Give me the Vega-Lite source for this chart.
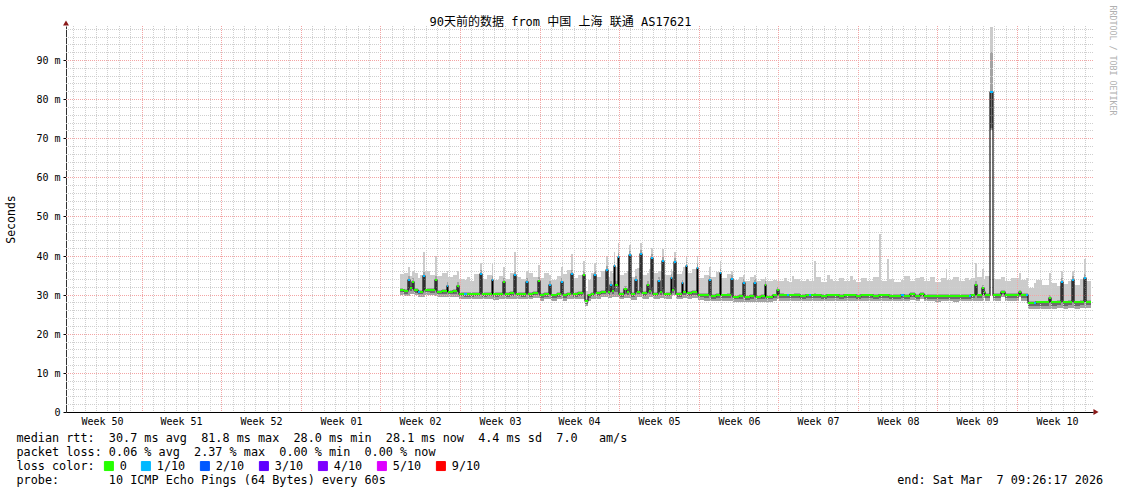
{
"$schema": "https://vega.github.io/schema/vega-lite/v6.json",
"width": 1027, "height": 386,
"autosize": {"type": "none"},
"padding": {"left": 66, "top": 26, "right": 28, "bottom": 82},
"background": "#ffffff",
"config": {"view": {"stroke": null}},
"title": {"text": "90天前的数据 from 中国 上海 联通 AS17621", "font": "DejaVu Sans Mono, Noto Sans CJK SC", "fontSize": 12, "fontWeight": "normal", "color": "#000000", "anchor": "middle", "frame": "group", "dx": -19, "dy": 35, "offset": 2, "baseline": "alphabetic"},
"resolve": {"axis": {"x": "independent", "y": "independent"}},
"datasets": {
"ping": [
{"d":29.73,"e":30.1,"m":31.3,"lo":29.9,"q1":30.6,"q3":31.8,"hi":35.2,"l":"0"},
{"d":30.1,"e":30.45,"m":31.0,"lo":29.6,"q1":30.3,"q3":31.5,"hi":35.6,"l":"0"},
{"d":30.45,"e":30.6,"m":33.8,"lo":29.7,"q1":31.3,"q3":34.8,"hi":37.2,"l":"1/10"},
{"d":30.6,"e":30.82,"m":31.6,"lo":30.2,"q1":30.9,"q3":32.1,"hi":34.8,"l":"0"},
{"d":30.82,"e":30.95,"m":33.3,"lo":30.2,"q1":31.4,"q3":34.2,"hi":36.0,"l":"0"},
{"d":30.95,"e":31.3,"m":31.2,"lo":29.8,"q1":30.5,"q3":31.7,"hi":35.5,"l":"0"},
{"d":31.3,"e":31.45,"m":30.8,"lo":29.4,"q1":30.1,"q3":31.3,"hi":34.3,"l":"1/10"},
{"d":31.45,"e":31.77,"m":30.8,"lo":29.4,"q1":30.1,"q3":31.3,"hi":35.0,"l":"0"},
{"d":31.77,"e":31.91,"m":34.7,"lo":29.5,"q1":31.1,"q3":35.7,"hi":41.0,"l":"1/10"},
{"d":31.91,"e":32.4,"m":31.3,"lo":29.9,"q1":30.6,"q3":31.8,"hi":36.0,"l":"0"},
{"d":32.4,"e":32.82,"m":31.2,"lo":29.8,"q1":30.5,"q3":31.7,"hi":35.0,"l":"0"},
{"d":32.82,"e":32.96,"m":33.8,"lo":29.7,"q1":31.2,"q3":34.8,"hi":40.0,"l":"0"},
{"d":32.96,"e":33.4,"m":30.8,"lo":29.4,"q1":30.1,"q3":31.3,"hi":34.8,"l":"0"},
{"d":33.4,"e":33.84,"m":30.9,"lo":29.5,"q1":30.2,"q3":31.4,"hi":35.6,"l":"0"},
{"d":33.84,"e":33.98,"m":32.3,"lo":29.5,"q1":30.7,"q3":33.2,"hi":36.0,"l":"1/10"},
{"d":33.98,"e":34.4,"m":30.8,"lo":29.4,"q1":30.1,"q3":31.3,"hi":34.5,"l":"0"},
{"d":34.4,"e":34.77,"m":30.9,"lo":29.5,"q1":30.2,"q3":31.4,"hi":35.0,"l":"0"},
{"d":34.77,"e":34.91,"m":32.3,"lo":29.5,"q1":30.7,"q3":33.2,"hi":36.0,"l":"0"},
{"d":34.91,"e":35.4,"m":30.3,"lo":28.9,"q1":29.6,"q3":30.8,"hi":34.0,"l":"0"},
{"d":35.4,"e":35.6,"m":30.2,"lo":28.8,"q1":29.5,"q3":30.7,"hi":33.8,"l":"1/10"},
{"d":35.6,"e":35.9,"m":30.2,"lo":28.8,"q1":29.5,"q3":30.7,"hi":34.6,"l":"0"},
{"d":35.9,"e":36.2,"m":30.2,"lo":28.8,"q1":29.5,"q3":30.7,"hi":33.6,"l":"0"},
{"d":36.2,"e":36.78,"m":30.3,"lo":28.9,"q1":29.6,"q3":30.8,"hi":35.2,"l":"0"},
{"d":36.78,"e":36.92,"m":35.3,"lo":28.9,"q1":30.8,"q3":36.3,"hi":38.0,"l":"1/10"},
{"d":36.92,"e":37.4,"m":30.2,"lo":28.8,"q1":29.5,"q3":30.7,"hi":34.0,"l":"0"},
{"d":37.4,"e":37.81,"m":30.3,"lo":28.9,"q1":29.6,"q3":30.8,"hi":35.0,"l":"0"},
{"d":37.81,"e":37.95,"m":33.8,"lo":28.9,"q1":30.6,"q3":34.8,"hi":37.8,"l":"1/10"},
{"d":37.95,"e":38.4,"m":30.1,"lo":28.7,"q1":29.4,"q3":30.6,"hi":33.8,"l":"0"},
{"d":38.4,"e":38.8,"m":30.3,"lo":28.9,"q1":29.6,"q3":30.8,"hi":34.8,"l":"0"},
{"d":38.8,"e":38.94,"m":33.3,"lo":28.9,"q1":30.5,"q3":34.3,"hi":37.0,"l":"0"},
{"d":38.94,"e":39.4,"m":30.2,"lo":28.8,"q1":29.5,"q3":30.7,"hi":34.0,"l":"0"},
{"d":39.4,"e":39.77,"m":30.4,"lo":29.0,"q1":29.7,"q3":30.9,"hi":35.5,"l":"0"},
{"d":39.77,"e":39.91,"m":35.1,"lo":29.0,"q1":30.8,"q3":36.1,"hi":40.8,"l":"1/10"},
{"d":39.91,"e":40.4,"m":30.3,"lo":28.9,"q1":29.6,"q3":30.8,"hi":34.5,"l":"0"},
{"d":40.4,"e":40.83,"m":30.2,"lo":28.8,"q1":29.5,"q3":30.7,"hi":34.0,"l":"0"},
{"d":40.83,"e":40.97,"m":33.3,"lo":28.8,"q1":30.5,"q3":34.3,"hi":36.0,"l":"1/10"},
{"d":40.97,"e":41.4,"m":30.2,"lo":28.8,"q1":29.5,"q3":30.7,"hi":35.5,"l":"0"},
{"d":41.4,"e":41.86,"m":30.5,"lo":29.1,"q1":29.8,"q3":31.0,"hi":34.5,"l":"0"},
{"d":41.86,"e":42.0,"m":33.6,"lo":29.1,"q1":30.6,"q3":34.6,"hi":37.5,"l":"0"},
{"d":42.0,"e":42.4,"m":29.9,"lo":28.5,"q1":29.2,"q3":30.4,"hi":34.2,"l":"0"},
{"d":42.4,"e":42.85,"m":30.2,"lo":28.8,"q1":29.5,"q3":30.7,"hi":35.6,"l":"0"},
{"d":42.85,"e":42.99,"m":32.5,"lo":28.8,"q1":30.3,"q3":33.4,"hi":35.0,"l":"1/10"},
{"d":42.99,"e":43.5,"m":29.8,"lo":28.4,"q1":29.1,"q3":30.3,"hi":33.8,"l":"0"},
{"d":43.5,"e":43.88,"m":30.2,"lo":28.8,"q1":29.5,"q3":30.7,"hi":34.8,"l":"0"},
{"d":43.88,"e":44.02,"m":33.2,"lo":28.8,"q1":30.5,"q3":34.2,"hi":37.0,"l":"1/10"},
{"d":44.02,"e":44.4,"m":29.9,"lo":28.5,"q1":29.2,"q3":30.4,"hi":35.4,"l":"0"},
{"d":44.4,"e":44.78,"m":30.3,"lo":28.9,"q1":29.6,"q3":30.8,"hi":36.3,"l":"0"},
{"d":44.78,"e":44.92,"m":35.3,"lo":28.9,"q1":30.8,"q3":36.3,"hi":40.5,"l":"1/10"},
{"d":44.92,"e":45.4,"m":30.2,"lo":28.8,"q1":29.5,"q3":30.7,"hi":34.2,"l":"0"},
{"d":45.4,"e":45.84,"m":30.4,"lo":29.0,"q1":29.7,"q3":30.9,"hi":35.0,"l":"0"},
{"d":45.84,"e":45.98,"m":35.0,"lo":29.0,"q1":30.8,"q3":36.0,"hi":38.5,"l":"0"},
{"d":45.98,"e":46.25,"m":28.4,"lo":27.0,"q1":27.7,"q3":28.9,"hi":31.0,"l":"0"},
{"d":46.25,"e":46.5,"m":29.8,"lo":28.4,"q1":29.1,"q3":30.3,"hi":33.8,"l":"0"},
{"d":46.5,"e":46.81,"m":30.3,"lo":28.9,"q1":29.6,"q3":30.8,"hi":35.5,"l":"0"},
{"d":46.81,"e":46.95,"m":35.0,"lo":28.9,"q1":30.8,"q3":36.0,"hi":38.0,"l":"1/10"},
{"d":46.95,"e":47.4,"m":30.4,"lo":29.0,"q1":29.7,"q3":30.9,"hi":34.5,"l":"0"},
{"d":47.4,"e":47.84,"m":30.8,"lo":29.4,"q1":30.1,"q3":31.3,"hi":36.0,"l":"0"},
{"d":47.84,"e":47.98,"m":36.4,"lo":29.4,"q1":31.2,"q3":37.4,"hi":40.0,"l":"1/10"},
{"d":47.98,"e":48.2,"m":30.6,"lo":29.2,"q1":29.9,"q3":31.1,"hi":34.5,"l":"0"},
{"d":48.2,"e":48.34,"m":32.6,"lo":29.2,"q1":30.6,"q3":33.5,"hi":36.0,"l":"1/10"},
{"d":48.34,"e":48.52,"m":30.9,"lo":29.5,"q1":30.2,"q3":31.4,"hi":35.5,"l":"0"},
{"d":48.52,"e":48.66,"m":37.3,"lo":29.5,"q1":31.5,"q3":38.3,"hi":41.0,"l":"1/10"},
{"d":48.66,"e":48.87,"m":32.6,"lo":29.5,"q1":30.8,"q3":33.6,"hi":37.0,"l":"0"},
{"d":48.87,"e":49.01,"m":39.6,"lo":29.5,"q1":31.8,"q3":40.6,"hi":43.3,"l":"1/10"},
{"d":49.01,"e":49.45,"m":30.2,"lo":28.8,"q1":29.5,"q3":30.7,"hi":35.0,"l":"0"},
{"d":49.45,"e":49.65,"m":31.5,"lo":29.1,"q1":30.3,"q3":32.3,"hi":35.5,"l":"0"},
{"d":49.65,"e":49.89,"m":30.6,"lo":29.2,"q1":29.9,"q3":31.1,"hi":36.0,"l":"0"},
{"d":49.89,"e":50.03,"m":40.1,"lo":29.2,"q1":31.8,"q3":41.1,"hi":42.8,"l":"1/10"},
{"d":50.03,"e":50.4,"m":30.1,"lo":28.7,"q1":29.4,"q3":30.6,"hi":34.5,"l":"0"},
{"d":50.4,"e":50.54,"m":33.8,"lo":28.7,"q1":30.6,"q3":34.8,"hi":36.5,"l":"1/10"},
{"d":50.54,"e":50.83,"m":30.8,"lo":29.4,"q1":30.1,"q3":31.3,"hi":36.8,"l":"0"},
{"d":50.83,"e":50.97,"m":40.3,"lo":29.4,"q1":31.8,"q3":41.3,"hi":43.2,"l":"1/10"},
{"d":50.97,"e":51.47,"m":30.4,"lo":29.0,"q1":29.7,"q3":30.9,"hi":35.0,"l":"0"},
{"d":51.47,"e":51.61,"m":32.5,"lo":29.0,"q1":30.4,"q3":33.4,"hi":35.5,"l":"0"},
{"d":51.61,"e":51.82,"m":30.9,"lo":29.5,"q1":30.2,"q3":31.4,"hi":36.5,"l":"0"},
{"d":51.82,"e":51.96,"m":39.4,"lo":29.5,"q1":31.6,"q3":40.4,"hi":41.9,"l":"1/10"},
{"d":51.96,"e":52.44,"m":30.3,"lo":28.9,"q1":29.6,"q3":30.8,"hi":35.5,"l":"0"},
{"d":52.44,"e":52.58,"m":33.4,"lo":28.9,"q1":30.6,"q3":34.4,"hi":36.0,"l":"1/10"},
{"d":52.58,"e":52.79,"m":30.6,"lo":29.2,"q1":29.9,"q3":31.1,"hi":36.0,"l":"0"},
{"d":52.79,"e":52.93,"m":38.7,"lo":29.2,"q1":31.4,"q3":39.7,"hi":41.8,"l":"1/10"},
{"d":52.93,"e":53.55,"m":30.3,"lo":28.9,"q1":29.6,"q3":30.8,"hi":35.0,"l":"0"},
{"d":53.55,"e":53.69,"m":34.3,"lo":28.9,"q1":30.7,"q3":35.3,"hi":36.5,"l":"1/10"},
{"d":53.69,"e":53.84,"m":31.2,"lo":29.8,"q1":30.5,"q3":31.7,"hi":36.0,"l":"0"},
{"d":53.84,"e":53.98,"m":38.4,"lo":29.8,"q1":31.6,"q3":39.4,"hi":41.0,"l":"1/10"},
{"d":53.98,"e":54.52,"m":30.2,"lo":28.8,"q1":29.5,"q3":30.7,"hi":35.3,"l":"0"},
{"d":54.52,"e":54.66,"m":33.1,"lo":28.8,"q1":30.5,"q3":34.1,"hi":36.0,"l":"1/10"},
{"d":54.66,"e":54.87,"m":30.6,"lo":29.2,"q1":29.9,"q3":31.1,"hi":37.0,"l":"0"},
{"d":54.87,"e":55.01,"m":37.3,"lo":29.2,"q1":31.2,"q3":38.3,"hi":39.8,"l":"1/10"},
{"d":55.01,"e":55.4,"m":30.4,"lo":29.0,"q1":29.7,"q3":30.9,"hi":35.6,"l":"0"},
{"d":55.4,"e":55.81,"m":30.6,"lo":29.2,"q1":29.9,"q3":31.1,"hi":36.5,"l":"0"},
{"d":55.81,"e":55.95,"m":36.8,"lo":29.2,"q1":31.0,"q3":37.8,"hi":39.8,"l":"1/10"},
{"d":55.95,"e":56.5,"m":30.0,"lo":28.6,"q1":29.3,"q3":30.5,"hi":34.2,"l":"0"},
{"d":56.5,"e":56.92,"m":29.9,"lo":28.5,"q1":29.2,"q3":30.4,"hi":35.0,"l":"0"},
{"d":56.92,"e":57.06,"m":33.8,"lo":28.5,"q1":30.4,"q3":34.8,"hi":37.0,"l":"1/10"},
{"d":57.06,"e":57.5,"m":29.7,"lo":28.3,"q1":29.0,"q3":30.2,"hi":34.5,"l":"0"},
{"d":57.5,"e":57.86,"m":29.9,"lo":28.5,"q1":29.2,"q3":30.4,"hi":35.8,"l":"0"},
{"d":57.86,"e":58.0,"m":35.6,"lo":28.5,"q1":30.6,"q3":36.6,"hi":38.5,"l":"1/10"},
{"d":58.0,"e":58.5,"m":29.8,"lo":28.4,"q1":29.1,"q3":30.3,"hi":34.3,"l":"0"},
{"d":58.5,"e":58.86,"m":29.9,"lo":28.5,"q1":29.2,"q3":30.4,"hi":35.2,"l":"0"},
{"d":58.86,"e":59.0,"m":34.0,"lo":28.5,"q1":30.4,"q3":35.0,"hi":36.0,"l":"1/10"},
{"d":59.0,"e":59.5,"m":29.5,"lo":28.1,"q1":28.8,"q3":30.0,"hi":33.8,"l":"0"},
{"d":59.5,"e":59.91,"m":29.6,"lo":28.2,"q1":28.9,"q3":30.1,"hi":34.6,"l":"0"},
{"d":59.91,"e":60.05,"m":33.0,"lo":28.2,"q1":30.0,"q3":34.0,"hi":35.0,"l":"1/10"},
{"d":60.05,"e":60.5,"m":29.4,"lo":28.0,"q1":28.7,"q3":29.9,"hi":33.6,"l":"0"},
{"d":60.5,"e":60.88,"m":29.6,"lo":28.2,"q1":28.9,"q3":30.1,"hi":34.6,"l":"0"},
{"d":60.88,"e":61.02,"m":33.0,"lo":28.2,"q1":30.0,"q3":34.0,"hi":35.0,"l":"1/10"},
{"d":61.02,"e":61.5,"m":29.5,"lo":28.1,"q1":28.8,"q3":30.0,"hi":33.5,"l":"0"},
{"d":61.5,"e":61.82,"m":29.6,"lo":28.2,"q1":28.9,"q3":30.1,"hi":34.0,"l":"0"},
{"d":61.82,"e":61.96,"m":32.6,"lo":28.2,"q1":29.8,"q3":33.5,"hi":34.5,"l":"0"},
{"d":61.96,"e":62.5,"m":29.5,"lo":28.1,"q1":28.8,"q3":30.0,"hi":33.6,"l":"0"},
{"d":62.5,"e":62.88,"m":29.8,"lo":28.4,"q1":29.1,"q3":30.3,"hi":33.8,"l":"0"},
{"d":62.88,"e":63.06,"m":31.3,"lo":28.8,"q1":29.8,"q3":32.0,"hi":33.5,"l":"0"},
{"d":63.06,"e":63.5,"m":29.9,"lo":28.5,"q1":29.2,"q3":30.4,"hi":33.6,"l":"0"},
{"d":63.5,"e":63.75,"m":29.8,"lo":28.4,"q1":29.1,"q3":30.3,"hi":34.2,"l":"0"},
{"d":63.75,"e":63.9,"m":29.8,"lo":28.4,"q1":29.1,"q3":30.3,"hi":33.5,"l":"1/10"},
{"d":63.9,"e":64.2,"m":29.8,"lo":28.4,"q1":29.1,"q3":30.3,"hi":33.2,"l":"0"},
{"d":64.2,"e":64.4,"m":29.8,"lo":28.4,"q1":29.1,"q3":30.3,"hi":34.9,"l":"0"},
{"d":64.4,"e":64.9,"m":29.9,"lo":28.5,"q1":29.2,"q3":30.4,"hi":34.0,"l":"0"},
{"d":64.9,"e":65.4,"m":29.7,"lo":28.3,"q1":29.0,"q3":30.2,"hi":33.5,"l":"0"},
{"d":65.4,"e":65.7,"m":29.8,"lo":28.4,"q1":29.1,"q3":30.3,"hi":34.0,"l":"0"},
{"d":65.7,"e":65.9,"m":29.8,"lo":28.4,"q1":29.1,"q3":30.3,"hi":33.5,"l":"1/10"},
{"d":65.9,"e":66.15,"m":29.8,"lo":28.4,"q1":29.1,"q3":30.3,"hi":33.4,"l":"0"},
{"d":66.15,"e":66.3,"m":29.9,"lo":28.5,"q1":29.2,"q3":30.4,"hi":38.7,"l":"0"},
{"d":66.3,"e":66.8,"m":29.8,"lo":28.4,"q1":29.1,"q3":30.3,"hi":34.5,"l":"0"},
{"d":66.8,"e":67.3,"m":29.7,"lo":28.3,"q1":29.0,"q3":30.2,"hi":33.2,"l":"0"},
{"d":67.3,"e":67.55,"m":29.8,"lo":28.4,"q1":29.1,"q3":30.3,"hi":35.0,"l":"0"},
{"d":67.55,"e":67.8,"m":29.8,"lo":28.4,"q1":29.1,"q3":30.3,"hi":33.9,"l":"0"},
{"d":67.8,"e":68.3,"m":29.8,"lo":28.4,"q1":29.1,"q3":30.3,"hi":33.6,"l":"0"},
{"d":68.3,"e":68.8,"m":29.7,"lo":28.3,"q1":29.0,"q3":30.2,"hi":34.3,"l":"0"},
{"d":68.8,"e":69.3,"m":29.8,"lo":28.4,"q1":29.1,"q3":30.3,"hi":33.4,"l":"0"},
{"d":69.3,"e":69.55,"m":29.8,"lo":28.4,"q1":29.1,"q3":30.3,"hi":34.8,"l":"0"},
{"d":69.55,"e":69.8,"m":29.8,"lo":28.4,"q1":29.1,"q3":30.3,"hi":33.7,"l":"0"},
{"d":69.8,"e":70.3,"m":29.7,"lo":28.3,"q1":29.0,"q3":30.2,"hi":33.3,"l":"0"},
{"d":70.3,"e":70.8,"m":29.8,"lo":28.4,"q1":29.1,"q3":30.3,"hi":34.2,"l":"0"},
{"d":70.8,"e":71.3,"m":29.8,"lo":28.4,"q1":29.1,"q3":30.3,"hi":33.6,"l":"0"},
{"d":71.3,"e":71.85,"m":29.7,"lo":28.3,"q1":29.0,"q3":30.2,"hi":34.5,"l":"0"},
{"d":71.85,"e":72.0,"m":29.8,"lo":28.4,"q1":29.1,"q3":30.3,"hi":45.4,"l":"0"},
{"d":72.0,"e":72.55,"m":29.8,"lo":28.4,"q1":29.1,"q3":30.3,"hi":33.5,"l":"0"},
{"d":72.55,"e":72.7,"m":29.8,"lo":28.4,"q1":29.1,"q3":30.3,"hi":39.0,"l":"0"},
{"d":72.7,"e":73.2,"m":29.7,"lo":28.3,"q1":29.0,"q3":30.2,"hi":34.0,"l":"0"},
{"d":73.2,"e":73.8,"m":29.7,"lo":28.3,"q1":29.0,"q3":30.2,"hi":33.2,"l":"0"},
{"d":73.8,"e":74.05,"m":29.8,"lo":28.4,"q1":29.1,"q3":30.3,"hi":33.8,"l":"1/10"},
{"d":74.05,"e":74.6,"m":29.7,"lo":28.3,"q1":29.0,"q3":30.2,"hi":34.8,"l":"0"},
{"d":74.6,"e":75.0,"m":30.1,"lo":28.7,"q1":29.4,"q3":30.6,"hi":33.5,"l":"0"},
{"d":75.0,"e":75.5,"m":29.7,"lo":28.3,"q1":29.0,"q3":30.2,"hi":34.2,"l":"0"},
{"d":75.5,"e":75.8,"m":30.3,"lo":28.9,"q1":29.6,"q3":30.8,"hi":34.6,"l":"0"},
{"d":75.8,"e":76.3,"m":29.7,"lo":28.3,"q1":29.0,"q3":30.2,"hi":33.4,"l":"0"},
{"d":76.3,"e":76.8,"m":29.7,"lo":28.3,"q1":29.0,"q3":30.2,"hi":34.6,"l":"0"},
{"d":76.8,"e":77.3,"m":29.6,"lo":28.2,"q1":28.9,"q3":30.1,"hi":33.3,"l":"0"},
{"d":77.3,"e":77.73,"m":29.7,"lo":28.3,"q1":29.0,"q3":30.2,"hi":34.2,"l":"0"},
{"d":77.73,"e":77.88,"m":29.7,"lo":28.3,"q1":29.0,"q3":30.2,"hi":36.6,"l":"0"},
{"d":77.88,"e":78.4,"m":29.7,"lo":28.3,"q1":29.0,"q3":30.2,"hi":33.8,"l":"0"},
{"d":78.4,"e":78.9,"m":29.6,"lo":28.2,"q1":28.9,"q3":30.1,"hi":34.5,"l":"0"},
{"d":78.9,"e":79.4,"m":29.7,"lo":28.3,"q1":29.0,"q3":30.2,"hi":33.4,"l":"0"},
{"d":79.4,"e":79.78,"m":29.7,"lo":28.3,"q1":29.0,"q3":30.2,"hi":34.3,"l":"0"},
{"d":79.78,"e":79.95,"m":29.7,"lo":28.3,"q1":29.0,"q3":30.2,"hi":33.8,"l":"1/10"},
{"d":79.95,"e":80.32,"m":29.8,"lo":28.4,"q1":29.1,"q3":30.3,"hi":34.2,"l":"0"},
{"d":80.32,"e":80.46,"m":32.6,"lo":28.4,"q1":29.8,"q3":33.5,"hi":38.2,"l":"0"},
{"d":80.46,"e":80.9,"m":29.8,"lo":28.4,"q1":29.1,"q3":30.3,"hi":34.5,"l":"0"},
{"d":80.9,"e":81.05,"m":31.8,"lo":28.4,"q1":29.8,"q3":32.6,"hi":36.5,"l":"0"},
{"d":81.05,"e":81.2,"m":30.6,"lo":29.2,"q1":29.9,"q3":31.1,"hi":34.0,"l":"0"},
{"d":81.2,"e":81.6,"m":29.9,"lo":28.5,"q1":29.2,"q3":30.4,"hi":34.8,"l":"0"},
{"d":81.6,"e":81.85,"m":81.8,"lo":72.0,"q1":72.5,"q3":92.0,"hi":98.5,"l":"1/10"},
{"d":81.85,"e":82.6,"m":29.9,"lo":28.5,"q1":29.2,"q3":30.4,"hi":34.0,"l":"0"},
{"d":82.6,"e":82.9,"m":30.8,"lo":29.4,"q1":30.1,"q3":31.3,"hi":34.6,"l":"0"},
{"d":82.9,"e":83.5,"m":29.9,"lo":28.5,"q1":29.2,"q3":30.4,"hi":33.5,"l":"0"},
{"d":83.5,"e":84.15,"m":29.9,"lo":28.5,"q1":29.2,"q3":30.4,"hi":34.2,"l":"0"},
{"d":84.15,"e":84.35,"m":30.8,"lo":29.4,"q1":30.1,"q3":31.3,"hi":35.5,"l":"0"},
{"d":84.35,"e":84.75,"m":29.9,"lo":28.5,"q1":29.2,"q3":30.4,"hi":33.8,"l":"0"},
{"d":84.75,"e":84.96,"m":29.9,"lo":28.5,"q1":29.2,"q3":30.4,"hi":34.2,"l":"1/10"},
{"d":84.96,"e":85.45,"m":27.9,"lo":26.3,"q1":27.1,"q3":28.4,"hi":31.8,"l":"0"},
{"d":85.45,"e":85.65,"m":27.9,"lo":26.3,"q1":27.1,"q3":28.4,"hi":33.0,"l":"1/10"},
{"d":85.65,"e":86.2,"m":28.0,"lo":26.4,"q1":27.2,"q3":28.5,"hi":33.8,"l":"0"},
{"d":86.2,"e":86.8,"m":28.0,"lo":26.4,"q1":27.2,"q3":28.5,"hi":32.5,"l":"0"},
{"d":86.8,"e":87.0,"m":29.2,"lo":26.4,"q1":27.8,"q3":29.8,"hi":35.5,"l":"0"},
{"d":87.0,"e":87.5,"m":28.0,"lo":26.4,"q1":27.2,"q3":28.5,"hi":33.0,"l":"0"},
{"d":87.5,"e":87.86,"m":28.1,"lo":26.5,"q1":27.3,"q3":28.6,"hi":32.2,"l":"0"},
{"d":87.86,"e":88.0,"m":33.2,"lo":26.5,"q1":28.6,"q3":34.2,"hi":36.0,"l":"1/10"},
{"d":88.0,"e":88.5,"m":28.0,"lo":26.4,"q1":27.2,"q3":28.5,"hi":32.8,"l":"0"},
{"d":88.5,"e":88.86,"m":28.1,"lo":26.5,"q1":27.3,"q3":28.6,"hi":33.5,"l":"0"},
{"d":88.86,"e":89.0,"m":33.7,"lo":26.5,"q1":28.6,"q3":34.7,"hi":36.0,"l":"1/10"},
{"d":89.0,"e":89.5,"m":28.0,"lo":26.4,"q1":27.2,"q3":28.5,"hi":32.5,"l":"0"},
{"d":89.5,"e":89.9,"m":28.1,"lo":26.5,"q1":27.3,"q3":28.6,"hi":34.0,"l":"0"},
{"d":89.9,"e":90.04,"m":34.3,"lo":26.5,"q1":28.6,"q3":35.3,"hi":39.0,"l":"1/10"},
{"d":90.04,"e":90.5,"m":28.1,"lo":26.5,"q1":27.3,"q3":28.6,"hi":33.5,"l":"0"}
],
"vminor": [{"v":1},{"v":2},{"v":3},{"v":4},{"v":5},{"v":6},{"v":8},{"v":9},{"v":10},{"v":11},{"v":12},{"v":13},{"v":15},{"v":16},{"v":17},{"v":18},{"v":19},{"v":20},{"v":22},{"v":23},{"v":24},{"v":25},{"v":26},{"v":27},{"v":29},{"v":30},{"v":31},{"v":32},{"v":33},{"v":34},{"v":36},{"v":37},{"v":38},{"v":39},{"v":40},{"v":41},{"v":43},{"v":44},{"v":45},{"v":46},{"v":47},{"v":48},{"v":50},{"v":51},{"v":52},{"v":53},{"v":54},{"v":55},{"v":57},{"v":58},{"v":59},{"v":60},{"v":61},{"v":62},{"v":64},{"v":65},{"v":66},{"v":67},{"v":68},{"v":69},{"v":71},{"v":72},{"v":73},{"v":74},{"v":75},{"v":76},{"v":78},{"v":79},{"v":80},{"v":81},{"v":82},{"v":83},{"v":85},{"v":86},{"v":87},{"v":88},{"v":89},{"v":90}],
"vmajor": [{"v":7},{"v":14},{"v":21},{"v":28},{"v":35},{"v":42},{"v":49},{"v":56},{"v":63},{"v":70},{"v":77},{"v":84}],
"hminor": [{"v":2},{"v":4},{"v":6},{"v":8},{"v":12},{"v":14},{"v":16},{"v":18},{"v":22},{"v":24},{"v":26},{"v":28},{"v":32},{"v":34},{"v":36},{"v":38},{"v":42},{"v":44},{"v":46},{"v":48},{"v":52},{"v":54},{"v":56},{"v":58},{"v":62},{"v":64},{"v":66},{"v":68},{"v":72},{"v":74},{"v":76},{"v":78},{"v":82},{"v":84},{"v":86},{"v":88},{"v":92},{"v":94},{"v":96},{"v":98}],
"hmajor": [{"v":10},{"v":20},{"v":30},{"v":40},{"v":50},{"v":60},{"v":70},{"v":80},{"v":90}]
},
"layer": [
{"data": {"name": "ping"}, "mark": {"type": "rect", "color": "#cbcbcb"},
 "encoding": {
  "x": {"field": "d", "type": "quantitative", "scale": {"domain": [0.35, 90.68], "nice": false, "zero": false, "round": true}, "axis": null},
  "x2": {"field": "e"},
  "y": {"field": "lo", "type": "quantitative", "scale": {"domain": [0, 98.7], "nice": false, "zero": false, "round": true},
   "axis": {"values": [0,10,20,30,40,50,60,70,80,90], "labelExpr": "datum.value == 0 ? '0\u00a0\u00a0' : datum.value + ' m'",
    "grid": false, "ticks": true, "tickSize": 3, "tickColor": "#000000", "domainColor": "#333333",
    "labelFont": "DejaVu Sans Mono", "labelFontSize": 10, "labelColor": "#000000", "labelPadding": 3, "labelOverlap": false, "labelFlush": false,
    "title": "Seconds", "titleFont": "DejaVu Sans Mono", "titleFontSize": 11.5, "titleFontWeight": "normal", "titleColor": "#000000",
    "titleAngle": -90, "titleAlign": "center", "titleBaseline": "middle", "titleX": -55, "titleY": 193}},
  "y2": {"field": "hi"}}},
{"data": {"name": "ping"}, "mark": {"type": "rect", "color": "#a3a3a3"},
 "encoding": {
  "x": {"field": "d", "type": "quantitative", "scale": {"domain": [0.35, 90.68], "nice": false, "zero": false, "round": true}, "axis": null},
  "x2": {"field": "e"},
  "y": {"field": "lo", "type": "quantitative", "scale": {"domain": [0, 98.7], "nice": false, "zero": false, "round": true}, "axis": null},
  "y2": {"field": "q3"}}},
{"data": {"name": "ping"}, "mark": {"type": "rect", "color": "#6c6c6c"},
 "encoding": {
  "x": {"field": "d", "type": "quantitative", "scale": {"domain": [0.35, 90.68], "nice": false, "zero": false, "round": true}, "axis": null},
  "x2": {"field": "e"},
  "y": {"field": "q1", "type": "quantitative", "scale": {"domain": [0, 98.7], "nice": false, "zero": false, "round": true}, "axis": null},
  "y2": {"field": "m"}}},
{"data": {"name": "vminor"}, "mark": {"type": "rule", "color": "#cfcfcf", "strokeDash": [1, 1], "strokeWidth": 1, "xOffset": 0.5},
 "encoding": {"x": {"field": "v", "type": "quantitative", "scale": {"domain": [0.35, 90.68], "nice": false, "zero": false, "round": true}, "axis": null}}},
{"data": {"name": "vmajor"}, "mark": {"type": "rule", "color": "#f3a5a5", "strokeDash": [1, 1], "strokeWidth": 1, "xOffset": 0.5},
 "encoding": {"x": {"field": "v", "type": "quantitative", "scale": {"domain": [0.35, 90.68], "nice": false, "zero": false, "round": true},
   "axis": {"values": [3.5,10.5,17.5,24.5,31.5,38.5,45.5,52.5,59.5,66.5,73.5,80.5,87.5],
    "labelExpr": "['Week 50','Week 51','Week 52','Week 01','Week 02','Week 03','Week 04','Week 05','Week 06','Week 07','Week 08','Week 09','Week 10'][floor(datum.value / 7)]",
    "orient": "bottom", "zindex": 2, "ticks": false, "grid": false, "domain": true, "domainColor": "#000000", "domainWidth": 1,
    "labelFont": "DejaVu Sans Mono", "labelFontSize": 10, "labelColor": "#000000", "labelPadding": 4, "labelOverlap": false, "labelFlush": false,
    "title": ["median rtt: \u00a030.7 ms avg \u00a081.8 ms max \u00a028.0 ms min \u00a028.1 ms now \u00a04.4 ms sd \u00a07.0 \u00a0\u00a0am/s", "packet loss: 0.06 % avg \u00a02.37 % max \u00a00.00 % min \u00a00.00 % now", "loss color:", "probe:\u00a0\u00a0\u00a0\u00a0\u00a0\u00a0\u00a010 ICMP Echo Pings (64 Bytes) every 60s\u00a0\u00a0\u00a0\u00a0\u00a0\u00a0\u00a0\u00a0\u00a0\u00a0\u00a0\u00a0\u00a0\u00a0\u00a0\u00a0\u00a0\u00a0\u00a0\u00a0\u00a0\u00a0\u00a0\u00a0\u00a0\u00a0\u00a0\u00a0\u00a0\u00a0\u00a0\u00a0\u00a0\u00a0\u00a0\u00a0\u00a0\u00a0\u00a0\u00a0\u00a0\u00a0\u00a0\u00a0\u00a0\u00a0\u00a0\u00a0\u00a0\u00a0\u00a0\u00a0\u00a0\u00a0\u00a0\u00a0\u00a0\u00a0\u00a0\u00a0\u00a0\u00a0\u00a0\u00a0\u00a0\u00a0\u00a0\u00a0\u00a0\u00a0\u00a0\u00a0end: Sat Mar \u00a07 09:26:17 2026"],
    "titleFont": "DejaVu Sans Mono", "titleFontSize": 11.8, "titleFontWeight": "normal", "titleColor": "#000000",
    "titleAlign": "left", "titleAnchor": "start", "titleBaseline": "top", "titleX": -50, "titleY": 20, "titleLineHeight": 14}}}},
{"data": {"name": "hminor"}, "mark": {"type": "rule", "color": "#cfcfcf", "strokeDash": [1, 1], "strokeWidth": 1, "yOffset": 0.5},
 "encoding": {"y": {"field": "v", "type": "quantitative", "scale": {"domain": [0, 98.7], "nice": false, "zero": false, "round": true}, "axis": null}}},
{"data": {"name": "hmajor"}, "mark": {"type": "rule", "color": "#f3a5a5", "strokeDash": [1, 1], "strokeWidth": 1, "yOffset": 0.5},
 "encoding": {"y": {"field": "v", "type": "quantitative", "scale": {"domain": [0, 98.7], "nice": false, "zero": false, "round": true},
  "axis": {"orient": "right", "labels": false, "ticks": false, "domain": false, "grid": false,
   "title": "RRDTOOL / TOBI OETIKER", "titleAngle": 90, "titleAlign": "left", "titleBaseline": "middle", "titleX": 18.5, "titleY": -21,
   "titleFont": "DejaVu Sans Mono", "titleFontSize": 8.3, "titleFontWeight": "normal", "titleColor": "#b0b0b0"}}}},
{"data": {"name": "ping"}, "mark": {"type": "line", "interpolate": "step-after", "color": "#000000", "strokeWidth": 1.1},
 "encoding": {
  "x": {"field": "d", "type": "quantitative", "scale": {"domain": [0.35, 90.68], "nice": false, "zero": false, "round": true}, "axis": null},
  "y": {"field": "m", "type": "quantitative", "scale": {"domain": [0, 98.7], "nice": false, "zero": false, "round": true}, "axis": null}}},
{"data": {"name": "ping"}, "mark": {"type": "rule", "strokeWidth": 2, "strokeCap": "butt"},
 "encoding": {
  "x": {"field": "d", "type": "quantitative", "scale": {"domain": [0.35, 90.68], "nice": false, "zero": false, "round": true}, "axis": null},
  "x2": {"field": "e"},
  "y": {"field": "m", "type": "quantitative", "scale": {"domain": [0, 98.7], "nice": false, "zero": false, "round": true}, "axis": null},
  "color": {"field": "l", "type": "nominal",
   "scale": {"domain": ["0","1/10","2/10","3/10","4/10","5/10","9/10"], "range": ["#26ff00","#00b8ff","#0059ff","#5e00ff","#7e00ff","#dd00ff","#ff0000"]},
   "legend": {"orient": "none", "legendX": 37, "legendY": 434, "direction": "horizontal", "title": null,
    "labelFont": "DejaVu Sans Mono", "labelFontSize": 11.8, "labelColor": "#000000", "labelOffset": 5, "columnPadding": 12,
    "symbolType": "square", "symbolSize": 81, "symbolStrokeColor": "#000000", "symbolStrokeWidth": 1, "symbolFillColor": "#ffffff", "padding": 0,
    "encode": {"symbols": {"update": {"fill": {"scale": "color", "field": "value"}, "stroke": {"value": "#000000"}, "strokeWidth": {"value": 1}, "shape": {"value": "square"}, "size": {"value": 81}, "opacity": {"value": 1}}}}}}}},
{"data": {"values": [{}]}, "mark": {"type": "point", "shape": "triangle-up", "filled": true, "color": "#8b1a1a", "size": 35, "yOffset": -3, "opacity": 1},
 "encoding": {
  "x": {"datum": 0.35, "type": "quantitative", "scale": {"domain": [0.35, 90.68], "nice": false, "zero": false, "round": true}, "axis": null},
  "y": {"datum": 98.7, "type": "quantitative", "scale": {"domain": [0, 98.7], "nice": false, "zero": false, "round": true}, "axis": null}}},
{"data": {"values": [{}]}, "mark": {"type": "point", "shape": "triangle-right", "filled": true, "color": "#8b1a1a", "size": 35, "xOffset": 3, "opacity": 1},
 "encoding": {
  "x": {"datum": 90.68, "type": "quantitative", "scale": {"domain": [0.35, 90.68], "nice": false, "zero": false, "round": true}, "axis": null},
  "y": {"datum": 0, "type": "quantitative", "scale": {"domain": [0, 98.7], "nice": false, "zero": false, "round": true}, "axis": null}}}
]
}
